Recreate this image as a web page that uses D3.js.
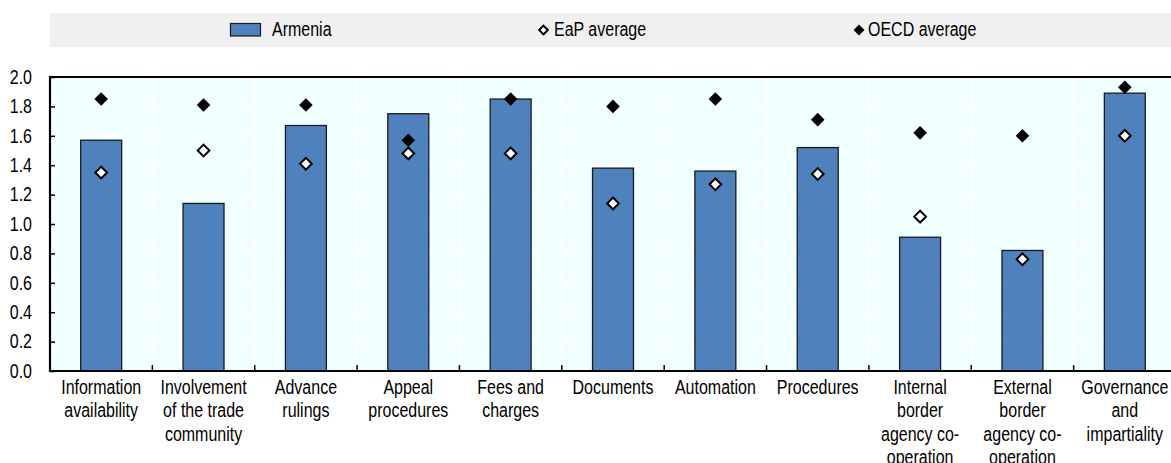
<!DOCTYPE html>
<html>
<head>
<meta charset="utf-8">
<script src="https://cdn.jsdelivr.net/npm/d3@7"></script>
<style>
  html, body { margin: 0; padding: 0; background: #fff; }
  svg { display: block; }
  text { font-family: "Liberation Sans Narrow", "Arial Narrow", "Liberation Sans", Arial, sans-serif; fill: #000; }
</style>
</head>
<body>
<svg id="chart" width="1171" height="463"></svg>
<script>
// ---- Data ----
const categories = [
  "Information availability",
  "Involvement of the trade community",
  "Advance rulings",
  "Appeal procedures",
  "Fees and charges",
  "Documents",
  "Automation",
  "Procedures",
  "Internal border agency co-operation",
  "External border agency co-operation",
  "Governance and impartiality"
];
const categoryLines = [
  ["Information", "availability"],
  ["Involvement", "of the trade", "community"],
  ["Advance", "rulings"],
  ["Appeal", "procedures"],
  ["Fees and", "charges"],
  ["Documents"],
  ["Automation"],
  ["Procedures"],
  ["Internal", "border", "agency co-", "operation"],
  ["External", "border", "agency co-", "operation"],
  ["Governance", "and", "impartiality"]
];
const armenia = [1.57, 1.14, 1.67, 1.75, 1.85, 1.38, 1.36, 1.52, 0.91, 0.82, 1.89];
const eapAverage = [1.35, 1.50, 1.41, 1.48, 1.48, 1.14, 1.27, 1.34, 1.05, 0.76, 1.60];
const oecdAverage = [1.85, 1.81, 1.81, 1.57, 1.85, 1.80, 1.85, 1.71, 1.62, 1.60, 1.93];
const yTicks = [0, 0.2, 0.4, 0.6, 0.8, 1.0, 1.2, 1.4, 1.6, 1.8, 2.0];
const seriesNames = ["Armenia", "EaP average", "OECD average"];

// ---- Layout ----
const svg = d3.select("#chart");
const W = 1171, H = 463;
const plot = { left: 50, right: 1176, top: 77, bottom: 371 };
const fontSize = 19.5;
const narrow = 0.82; // horizontal compression to mimic a narrow face

const x = d3.scaleBand().domain(categories).range([plot.left, plot.right]).padding(0);
const y = d3.scaleLinear().domain([0, 2]).range([plot.bottom, plot.top]);
const bw = x.bandwidth();
const diamond = d3.symbol().type(d3.symbolDiamond2);

// Legend
const legend = svg.append("g");
legend.append("rect").attr("x", 50).attr("y", 13).attr("width", W - 50).attr("height", 34).attr("fill", "#f0f0f0");
legend.append("rect").attr("x", 230.5).attr("y", 23.5).attr("width", 30).attr("height", 12.5)
  .attr("fill", "#4f81bd").attr("stroke", "#1a1a1a").attr("stroke-width", 1.2);
function legendText(px, label) {
  legend.append("text").attr("transform", `translate(${px},36) scale(${narrow},1)`)
    .attr("font-size", fontSize).text(label);
}
legendText(272, seriesNames[0]);
legend.append("path").attr("d", diamond.size(48)()).attr("transform", "translate(543.5,30)")
  .attr("fill", "#fff").attr("stroke", "#000").attr("stroke-width", 2);
legendText(554, seriesNames[1]);
legend.append("path").attr("d", diamond.size(76)()).attr("transform", "translate(859,30)")
  .attr("fill", "#000");
legendText(868, seriesNames[2]);

// Plot background
svg.append("rect").attr("x", plot.left).attr("y", plot.top)
  .attr("width", plot.right - plot.left).attr("height", plot.bottom - plot.top)
  .attr("fill", "#f0ffff");

// Grid lines
const grid = svg.append("g").attr("stroke", "#fff").attr("stroke-width", 2);
grid.selectAll("line.h").data(yTicks.slice(1, -1)).join("line")
  .attr("x1", plot.left).attr("x2", plot.right)
  .attr("y1", d => y(d)).attr("y2", d => y(d));
grid.selectAll("line.v").data(categories.slice(1)).join("line")
  .attr("x1", d => x(d)).attr("x2", d => x(d))
  .attr("y1", plot.top).attr("y2", plot.bottom);

// Bars
svg.append("g").selectAll("rect").data(armenia).join("rect")
  .attr("x", (d, i) => x(categories[i]) + bw * 0.3)
  .attr("width", bw * 0.4)
  .attr("y", d => y(d))
  .attr("height", d => y(0) - y(d))
  .attr("fill", "#4f81bd")
  .attr("stroke", "#1a1a1a")
  .attr("stroke-width", 1.3);

// Markers
svg.append("g").selectAll("path").data(oecdAverage).join("path")
  .attr("d", diamond.size(118)())
  .attr("transform", (d, i) => `translate(${x(categories[i]) + bw / 2},${y(d)})`)
  .attr("fill", "#000");
svg.append("g").selectAll("path").data(eapAverage).join("path")
  .attr("d", diamond.size(88)())
  .attr("transform", (d, i) => `translate(${x(categories[i]) + bw / 2},${y(d)})`)
  .attr("fill", "#fff").attr("stroke", "#000").attr("stroke-width", 2);

// Y axis
const yAxis = svg.append("g").attr("transform", `translate(${plot.left},0)`)
  .call(d3.axisLeft(y).tickValues(yTicks).tickFormat(d3.format(".1f")).tickSizeInner(-5).tickSizeOuter(0).tickPadding(18));
yAxis.select(".domain").remove();
yAxis.selectAll(".tick line").attr("stroke", "#000").attr("stroke-width", 1.5);
yAxis.selectAll(".tick text")
  .attr("font-size", fontSize).attr("font-family", null)
  .attr("x", -18 / narrow)
  .attr("transform", `scale(${narrow},1)`);

// X axis (labels)
const xAxis = svg.append("g").attr("transform", `translate(0,${plot.bottom})`)
  .call(d3.axisBottom(x).tickSize(0).tickPadding(0).tickFormat(""));
xAxis.select(".domain").remove();
xAxis.selectAll(".tick text").each(function (d) {
  const t = d3.select(this).attr("font-size", fontSize).attr("font-family", null)
    .attr("y", 23).attr("dy", null).attr("transform", `scale(${narrow},1)`);
  categoryLines[categories.indexOf(d)].forEach((line, j) => {
    t.append("tspan").attr("x", 0).attr("y", 23 + j * 23.4).text(line);
  });
});

// X boundary ticks (pointing up)
svg.append("g").selectAll("line").data(categories.slice(1)).join("line")
  .attr("x1", d => x(d)).attr("x2", d => x(d))
  .attr("y1", plot.bottom).attr("y2", plot.bottom - 6)
  .attr("stroke", "#000").attr("stroke-width", 1.5);

// Frame: left, bottom, top
const frame = svg.append("g").attr("stroke", "#000").attr("stroke-width", 2.2);
frame.append("line").attr("x1", plot.left).attr("x2", plot.left).attr("y1", plot.top - 1).attr("y2", plot.bottom + 1);
frame.append("line").attr("x1", plot.left - 1).attr("x2", plot.right).attr("y1", plot.bottom).attr("y2", plot.bottom);
frame.append("line").attr("x1", plot.left - 1).attr("x2", plot.right).attr("y1", plot.top).attr("y2", plot.top);
</script>
</body>
</html>
